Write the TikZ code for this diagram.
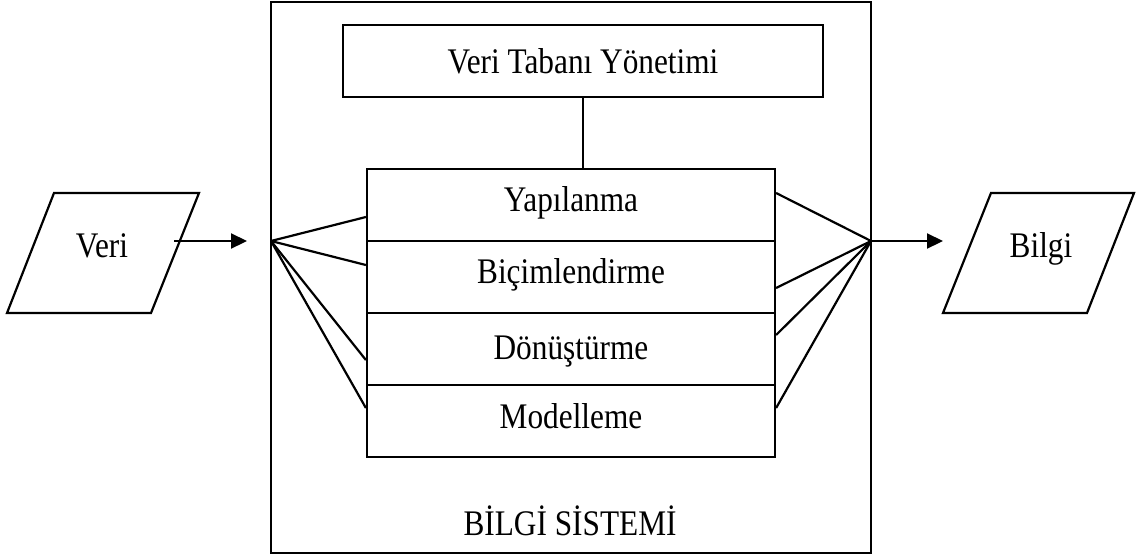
\documentclass[tikz,border=0pt]{standalone}
\usepackage{fontspec}
\setmainfont{Liberation Serif}
\usetikzlibrary{arrows.meta}
% slightly tall lettering
\newcommand\tallword[1]{\scalebox{1}[1.15]{#1}}
\begin{document}
\begin{tikzpicture}[x=1pt,y=-1pt,
  line width=2.2pt,
  every node/.style={font=\fontsize{31.3}{38}\selectfont, inner sep=0pt},
  box/.style={draw, rectangle, line width=2.2pt},
  rowbox/.style={box, minimum width=408pt, minimum height=72pt},
  flow/.style={-{Triangle[length=16pt,width=15pt]}},
]
\useasboundingbox (0,0) rectangle (1144,558);

% information system frame
\node[box, minimum width=600pt, minimum height=551pt] (sys) at (571,277.5) {};
\node[anchor=base] (systitle) at (570,535) {\tallword{BİLGİ SİSTEMİ}};

% database management box
\node[box, minimum width=480pt, minimum height=72pt] (db) at (583,61) {};
\node[anchor=base] (dbtext) at (583,73) {\tallword{Veri Tabanı Yönetimi}};

% stacked processing rows
\node[rowbox] (r1) at (571,205) {};
\node[rowbox] (r2) at (571,277) {};
\node[rowbox] (r3) at (571,349) {};
\node[rowbox] (r4) at (571,421) {};
\node[anchor=base] (t1) at (571,211) {\tallword{Yapılanma}};
\node[anchor=base] (t2) at (571,283) {\tallword{Biçimlendirme}};
\node[anchor=base] (t3) at (571,359) {\tallword{Dönüştürme}};
\node[anchor=base] (t4) at (571,428) {\tallword{Modelleme}};

% link from the database box down to the rows
\draw (db.south -| r1.north) ++(12,0) coordinate (dbfoot) -- (dbfoot |- r1.north);

% input and output parallelograms
\draw (7,313) -- (54,193) -- (199,193) -- (151,313) -- cycle;
\node[anchor=base] (veri) at (102,257) {\tallword{Veri}};
\draw (943,313) -- (991,193) -- (1134,193) -- (1087,313) -- cycle;
\node[anchor=base] (bilgi) at (1041,257) {\tallword{Bilgi}};

% fan points on the frame
\coordinate (inL) at (271,241);
\coordinate (outR) at (871,241);
\coordinate (veriOut) at (174,241);
\coordinate (bilgiIn) at (943,241);

\draw[flow] (veriOut) -- (247,241) coordinate (veriTip);
\draw[flow] (outR) -- (bilgiIn);

% fan into the rows
\draw (inL) -- ([yshift=-12pt]r1.west);
\draw (inL) -- ([yshift=12pt]r2.west);
\draw (inL) -- ([yshift=-11pt]r3.west);
\draw (inL) -- ([yshift=13pt]r4.west);

% fan out of the rows
\draw (outR) -- ([yshift=12pt]r1.east);
\draw (outR) -- ([yshift=-11pt]r2.east);
\draw (outR) -- ([yshift=14pt]r3.east);
\draw (outR) -- ([yshift=13pt]r4.east);
\end{tikzpicture}
\end{document}
